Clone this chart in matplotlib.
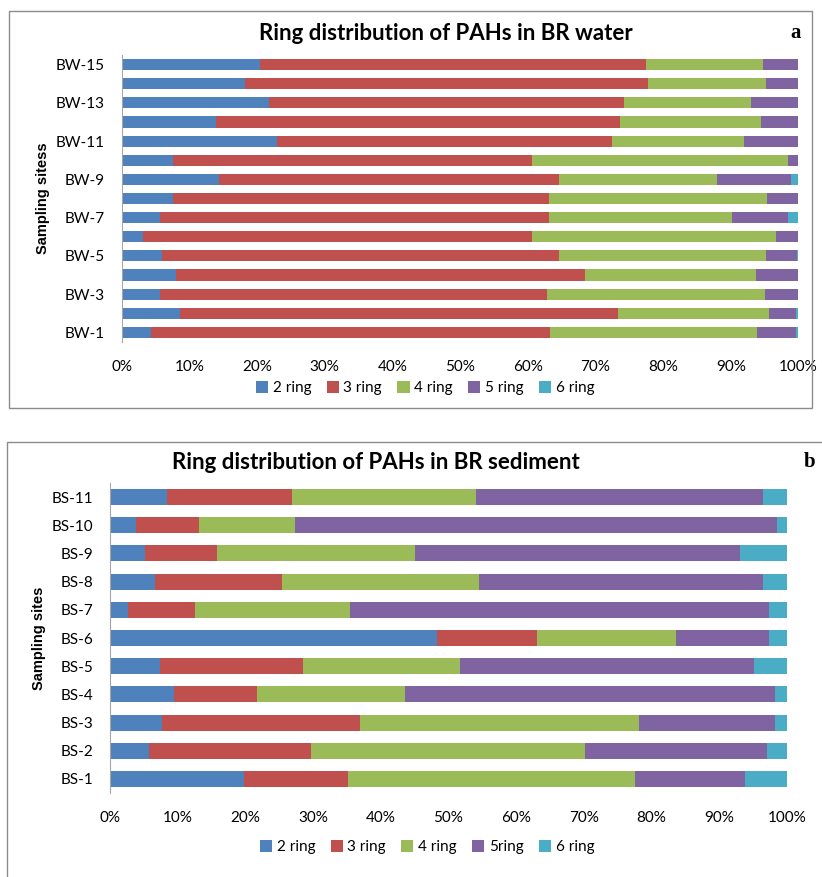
import numpy as np
import matplotlib
matplotlib.use("Agg")
import matplotlib.pyplot as plt
from matplotlib.patches import Rectangle

# ring composition (% of total PAHs) per site, bottom site first
water_sites = ["BW-%d" % i for i in range(1, 16)]
water_2ring = [4.3, 8.7, 5.7, 8.1, 6.0, 3.1, 5.6, 7.6, 14.4, 7.6, 22.9, 14.0, 21.8, 18.2, 20.4]
water_3ring = [59.0, 64.7, 57.1, 60.4, 58.6, 57.5, 57.5, 55.5, 50.2, 53.1, 49.5, 59.7, 52.4, 59.6, 57.1]
water_4ring = [30.6, 22.3, 32.2, 25.2, 30.6, 36.1, 27.1, 32.2, 23.4, 37.7, 19.5, 20.8, 18.8, 17.4, 17.2]
water_5ring = [5.8, 4.0, 5.0, 6.3, 4.6, 3.3, 8.3, 4.7, 10.9, 1.6, 8.1, 5.5, 7.0, 4.7, 5.2]
water_6ring = [0.3, 0.3, 0.0, 0.0, 0.2, 0.0, 1.5, 0.0, 1.1, 0.0, 0.0, 0.0, 0.0, 0.1, 0.1]

sed_sites = ["BS-%d" % i for i in range(1, 12)]
sed_2ring = [19.8, 5.7, 7.7, 9.5, 7.4, 48.3, 2.6, 6.7, 5.1, 3.9, 8.4]
sed_3ring = [15.4, 24.0, 29.2, 12.2, 21.1, 14.8, 9.9, 18.7, 10.7, 9.2, 18.5]
sed_4ring = [42.3, 40.4, 41.2, 21.9, 23.2, 20.5, 22.9, 29.1, 29.3, 14.3, 27.2]
sed_5ring = [16.3, 26.9, 20.1, 54.6, 43.4, 13.8, 62.0, 41.9, 48.0, 71.1, 42.3]
sed_6ring = [6.2, 3.0, 1.8, 1.8, 4.9, 2.6, 2.6, 3.6, 6.9, 1.5, 3.6]

ring_colors = ["#4F81BD", "#C0504D", "#9BBB59", "#8064A2", "#4BACC6"]
water_labels = ["2 ring", "3 ring", "4 ring", "5 ring", "6 ring"]
sed_labels = ["2 ring", "3 ring", "4 ring", "5ring", "6 ring"]

W, H = 822, 877
fig = plt.figure(figsize=(W / 100, H / 100), dpi=100)
fig.patch.set_facecolor("white")

label_font = "Lato"


def box(x0, y0, x1, y1):
    # outer chart frame, given in pixels from top-left
    fig.patches.append(Rectangle((x0 / W, 1 - y1 / H), (x1 - x0) / W, (y1 - y0) / H,
                                 transform=fig.transFigure, fill=False,
                                 edgecolor="#8c8c8c", linewidth=1.0))


def stacked(ax, sites, series, labels, bar_h, show_every):
    y = np.arange(len(sites))
    left = np.zeros(len(sites))
    handles = []
    for vals, col, lab in zip(series, ring_colors, labels):
        vals = np.array(vals, dtype=float)
        h = ax.barh(y, vals, left=left, height=bar_h, color=col, label=lab,
                    edgecolor="none")
        handles.append(h)
        left += vals
    ax.set_xlim(0, 100)
    ax.set_ylim(-0.5, len(sites) - 0.5)
    ax.set_xticks(np.arange(0, 101, 10))
    ax.set_xticklabels(["%d%%" % v for v in range(0, 101, 10)],
                       fontsize=11, family=label_font)
    ax.set_yticks(y)
    ax.set_yticklabels([s if i % show_every == 0 else "" for i, s in enumerate(sites)],
                       fontsize=11, family=label_font)
    ax.tick_params(axis="both", length=0)
    ax.tick_params(axis="x", pad=13)
    ax.tick_params(axis="y", pad=12)
    for side in ["top", "right", "bottom"]:
        ax.spines[side].set_visible(False)
    ax.spines["left"].set_color("#a6a6a6")
    return handles


legend_kw = dict(loc="center", ncol=5, frameon=False,
                 prop={"family": label_font, "size": 11},
                 handlelength=0.8, handleheight=0.8, handletextpad=0.3,
                 columnspacing=1.0)

# panel a: water
box(9, 11, 812, 408)
ax1 = fig.add_axes([121.6 / W, 1 - 342 / H, 676.8 / W, 287 / H])
h1 = stacked(ax1, water_sites,
             [water_2ring, water_3ring, water_4ring, water_5ring, water_6ring],
             water_labels, 0.58, 2)
ax1.set_ylabel("Sampling sitess", fontsize=10.5, fontweight="bold",
               family="Liberation Sans", labelpad=4)
fig.text(446 / W, 1 - 33 / H, "Ring distribution of PAHs in BR water",
         ha="center", va="center", fontsize=16, fontweight="bold", family=label_font)
fig.text(796 / W, 1 - 33 / H, "a", ha="center", va="center", fontsize=15,
         fontweight="bold", family="Liberation Serif")
fig.legend(handles=h1, bbox_to_anchor=(425 / W, 1 - 388 / H), **legend_kw)

# panel b: sediment
box(7, 442, 840, 890)
ax2 = fig.add_axes([110 / W, 1 - 793 / H, 677 / W, 310 / H])
h2 = stacked(ax2, sed_sites,
             [sed_2ring, sed_3ring, sed_4ring, sed_5ring, sed_6ring],
             sed_labels, 0.57, 1)
ax2.set_ylabel("Sampling sites", fontsize=10.5, fontweight="bold",
               family="Liberation Sans", labelpad=4)
fig.text(376 / W, 1 - 462 / H, "Ring distribution of PAHs in BR sediment",
         ha="center", va="center", fontsize=16, fontweight="bold", family=label_font)
fig.text(810 / W, 1 - 462 / H, "b", ha="center", va="center", fontsize=15,
         fontweight="bold", family="Liberation Serif")
fig.legend(handles=h2, bbox_to_anchor=(427 / W, 1 - 847 / H), **legend_kw)

fig.savefig("out.png", dpi=100)
